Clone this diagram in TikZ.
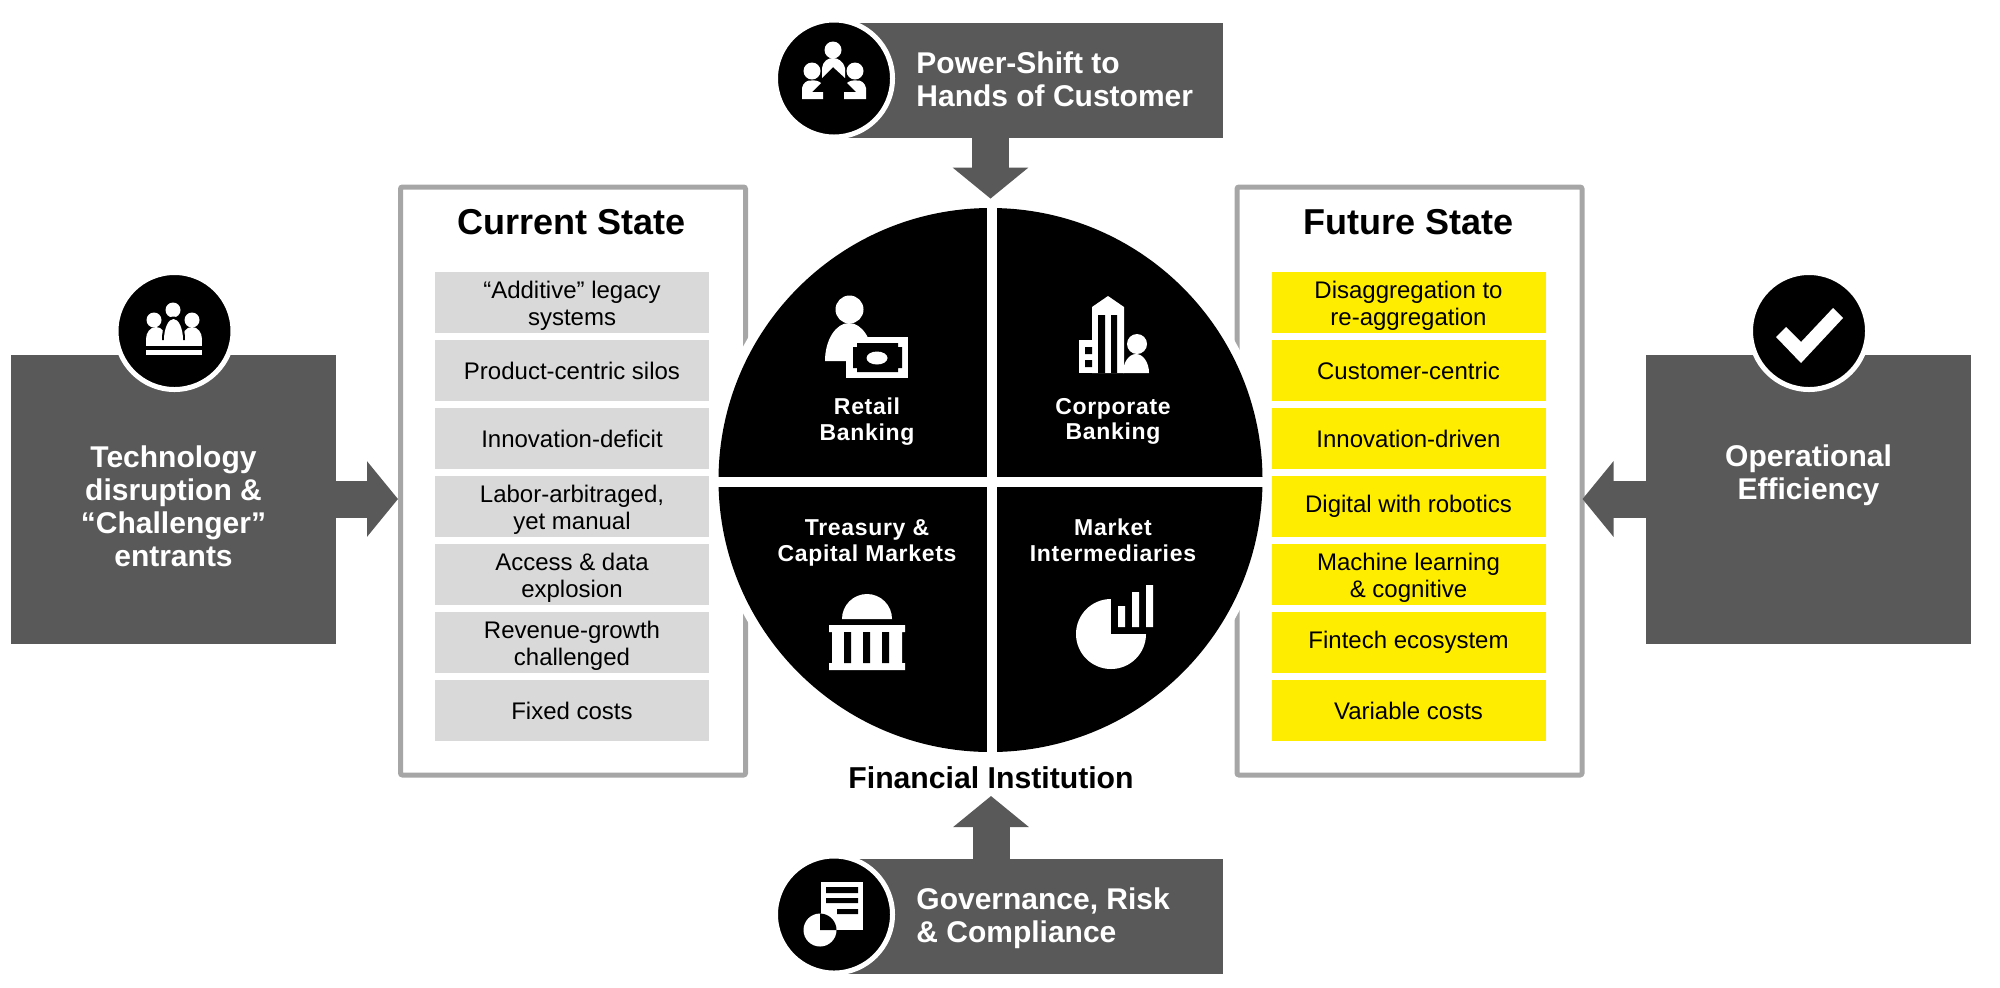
\documentclass[tikz,border=0pt]{standalone}
\usepackage{fontspec}
\setmainfont{Liberation Sans}
\newfontfamily\pielabelfont[LetterSpace=3]{Liberation Sans}
\usepackage{tikz}
\usetikzlibrary{shapes.misc, positioning}
\usetikzlibrary{arrows.meta}
\definecolor{darkgrey}{HTML}{595959}
\definecolor{panelgrey}{HTML}{A6A6A6}
\definecolor{rowgrey}{HTML}{D9D9D9}
\definecolor{rowyellow}{HTML}{FFED00}
\newcommand{\iconbump}[4]{\fill[iconfill] (#1-#3,#2) .. controls (#1-#3,#2-0.5523*#4) and (#1-0.5523*#3,#2-#4) .. (#1,#2-#4) .. controls (#1+0.5523*#3,#2-#4) and (#1+#3,#2-0.5523*#4) .. (#1+#3,#2) -- cycle;}
\newcommand{\rowlines}[2]{\rule{0pt}{11.8pt}#1\\#2}

\begin{document}
\begin{tikzpicture}[x=0.5pt, y=-0.5pt, node distance=3.5pt,
    darkbox/.style={rectangle, fill=darkgrey, inner sep=0pt, outer sep=0pt},
    boxtext/.style={text=white, font=\fontsize{15}{16.5}\selectfont\bfseries, inner sep=0pt},
    statepanel/.style={rectangle, draw=panelgrey, fill=white, line width=2.5pt, rounded corners=1pt, minimum width=172.5pt, minimum height=294pt},
    paneltitle/.style={font=\fontsize{18}{20}\selectfont\bfseries, inner sep=0pt},
    staterow/.style={rectangle, minimum width=137pt, minimum height=30.5pt, inner sep=0pt, outer sep=0pt, align=center, font=\fontsize{12}{13.25}\selectfont},
    greyrow/.style={staterow, fill=rowgrey},
    yellowrow/.style={staterow, fill=rowyellow},
    iconcircle/.style={circle, fill=black, draw=white, line width=2.5pt, minimum size=58.5pt, inner sep=0pt},
    pielabel/.style={text=white, align=center, inner sep=0pt, font=\pielabelfont\bfseries\fontsize{11.5}{12.75}\selectfont},
    iconfill/.style={fill=white, draw=none},
    iconcut/.style={fill=black, draw=none},
    blockarrow/.style={darkgrey, line width=18.5pt, -{Triangle[width=37pt,length=15.5pt]}}]

    %Nodes
    \useasboundingbox (0,0) rectangle (2000,987);
    \node[statepanel](currentpanel) at (573,481){};
    \node[statepanel](futurepanel) at (1409.5,481){};
    \node[circle, fill=white, inner sep=0pt, minimum size=281pt](piering) at (990.5,480){};
    \node[circle, fill=black, inner sep=0pt, minimum size=272pt](piedisc) at (990.5,480){};
    \fill[white] (987,200) rectangle (997,760);
    \fill[white] (710,477) rectangle (1270,487);

    \node[darkbox, minimum width=162.5pt, minimum height=144.5pt](techbox) at (173.5,499){};
    \node[darkbox, minimum width=162.5pt, minimum height=144.5pt](opsbox) at (1808.5,499){};
    \node[darkbox, minimum width=191.5pt, minimum height=57.5pt](powerbox) at (1031.5,80.5){};
    \node[darkbox, minimum width=191.5pt, minimum height=57.5pt](govbox) at (1031.5,916.5){};

    \node[iconcircle](techcircle) at (174.5,331){};
    \node[iconcircle](opscircle) at (1809,331){};
    \node[iconcircle](powercircle) at (834,78.5){};
    \node[iconcircle](govcircle) at (834,914.5){};

    \node[boxtext, align=center](techtext) at (173.5,506){Technology\\disruption \&\\“Challenger”\\entrants};
    \node[boxtext, align=center](opstext) at (1808.5,475){Operational\\Efficiency};
    \node[boxtext, align=left, anchor=west](powertext) at (916,79){Power-Shift to\\Hands of Customer};
    \node[boxtext, align=left, anchor=west](govtext) at (916,918){Governance, Risk\\\& Compliance};

    \node[greyrow](currentone) at (572,302.5){\rowlines{“Additive” legacy}{systems}};
    \node[greyrow](currenttwo)[below=of currentone]{Product-centric silos};
    \node[greyrow](currentthree)[below=of currenttwo]{Innovation-deficit};
    \node[greyrow](currentfour)[below=of currentthree]{\rowlines{Labor-arbitraged,}{yet manual}};
    \node[greyrow](currentfive)[below=of currentfour]{\rowlines{Access \& data}{explosion}};
    \node[greyrow](currentsix)[below=of currentfive]{\rowlines{Revenue-growth}{challenged}};
    \node[greyrow](currentseven)[below=of currentsix]{Fixed costs};
    \node[paneltitle](currenttitle)[above=18.5pt of currentone]{Current State};

    \node[yellowrow](futureone) at (1408.5,302.5){\rowlines{Disaggregation to}{re-aggregation}};
    \node[yellowrow](futuretwo)[below=of futureone]{Customer-centric};
    \node[yellowrow](futurethree)[below=of futuretwo]{Innovation-driven};
    \node[yellowrow](futurefour)[below=of futurethree]{Digital with robotics};
    \node[yellowrow](futurefive)[below=of futurefour]{\rowlines{Machine learning}{\& cognitive}};
    \node[yellowrow](futuresix)[below=of futurefive]{Fintech ecosystem};
    \node[yellowrow](futureseven)[below=of futuresix]{Variable costs};
    \node[paneltitle](futuretitle)[above=18.5pt of futureone]{Future State};

    \node[pielabel](retailtext) at (867,421.5){Retail\\Banking};
    \node[pielabel](corporatetext) at (1113,421.5){Corporate\\Banking};
    \node[pielabel](treasurytext) at (867,543){Treasury \&\\Capital Markets};
    \node[pielabel](markettext) at (1113,540.5){Market\\Intermediaries};
    \node[inner sep=0pt, font=\fontsize{15.1}{16}\selectfont\bfseries](fintext) at (991,778){Financial Institution};
    \coordinate (govtip) at (991,796);

    %Lines
    \draw[blockarrow] (techbox.east) -- (techbox.east -| currentpanel.west);
    \draw[blockarrow, shorten >=-1pt] (opsbox.west) -- (opsbox.west -| futurepanel.east);
    \draw[blockarrow] (powerbox.south -| piering.north) -- (piering.north);
    \draw[blockarrow] (govbox.north -| govtip) -- (govtip);

    %Icons
    % tech group
    \fill[iconfill] (173,310) circle (7.5) (154,320) circle (7.5) (192,320) circle (7.5);
    \iconbump{156}{339}{10}{12}
    \iconbump{192}{339}{10}{12}
    \fill[iconfill] (146,338) rectangle (202,346);
    \fill[iconcut] (162,340) .. controls (162,325) and (167,316.5) .. (173.5,316.5) .. controls (180,316.5) and (185,325) .. (185,340) -- cycle;
    \iconbump{173.5}{340}{9.5}{21}
    \fill[iconfill] (164,338) rectangle (183,346);
    \fill[iconfill] (146,350) rectangle (202,355);
    % check mark
    \fill[iconfill] (1776,337) -- (1786,327) -- (1801,342) -- (1833,308) -- (1843,318) -- (1801,363) -- cycle;
    % power shift
    \fill[iconfill] (833,50) circle (8.5) (812,71) circle (8.5) (855,71) circle (8.5);
    \fill[iconfill] (822,78) -- (822,68) .. controls (823,61) and (828,58) .. (833,58) .. controls (838,58) and (843,61) .. (845,68) -- (845,78) -- (833,67) -- cycle;
    \fill[iconfill] (802,99) -- (802,88) .. controls (803,83) and (807,80) .. (811,80.5) .. controls (815,80) and (819,81) .. (821,83) -- (812,92) -- (823,92) -- (823,99) -- cycle;
    \fill[iconfill] (866,99) -- (866,88) .. controls (865,83) and (861,80) .. (857,80.5) .. controls (853,80) and (849,81) .. (847,83) -- (856,92) -- (844,92) -- (844,99) -- cycle;
    % governance
    \fill[iconfill] (820.5,882) rectangle (863,930);
    \fill[iconcut] (826,887) rectangle (858,893) (826,898) rectangle (858,903) (837,909) rectangle (858,914);
    \fill[iconfill] (820,930) circle (16.5);
    \fill[iconcut] (820,930) -- (820,913.5) .. controls (829,913.5) and (836.5,921) .. (836.5,930) -- cycle;
    % retail
    \fill[iconfill] (849.5,309.5) circle (14);
    \iconbump{849}{361}{24}{38}
    \fill[iconfill] (846,337) rectangle (908,378);
    \fill[iconcut] (857,343) -- (898,343) -- (898,347) -- (902,347) -- (902,368) -- (898,368) -- (898,372) -- (857,372) -- (857,368) -- (853,368) -- (853,347) -- (857,347) -- cycle;
    \fill[iconfill] (877,358) ellipse (10.5 and 6.5);
    % corporate
    \fill[iconfill] (1092,307) -- (1108,296) -- (1124,307) -- (1124,373) -- (1092,373) -- cycle;
    \fill[iconfill] (1079,340) rectangle (1098,373);
    \fill[iconcut] (1098,315) rectangle (1105,373) (1111,315) rectangle (1117,373);
    \fill[iconcut] (1085,347) rectangle (1092,354) (1085,360) rectangle (1092,367);
    \fill[iconfill] (1137,344) circle (10);
    \iconbump{1136}{373}{13}{19}
    % treasury
    \iconbump{867}{619}{25}{25}
    \fill[iconfill] (829,625) rectangle (905,632) (829,663) rectangle (905,670) (832,632) rectangle (902,663);
    \fill[iconcut] (844,632) rectangle (851,663) (863,632) rectangle (870,663) (882,632) rectangle (889,663);
    % market
    \fill[iconfill] (1111,634) circle (35);
    \fill[iconcut] (1111,598) rectangle (1147,634);
    \fill[iconfill] (1118,606) rectangle (1125,627) (1132,592) rectangle (1139,627) (1146,585) rectangle (1153,627);
\end{tikzpicture}
\end{document}
